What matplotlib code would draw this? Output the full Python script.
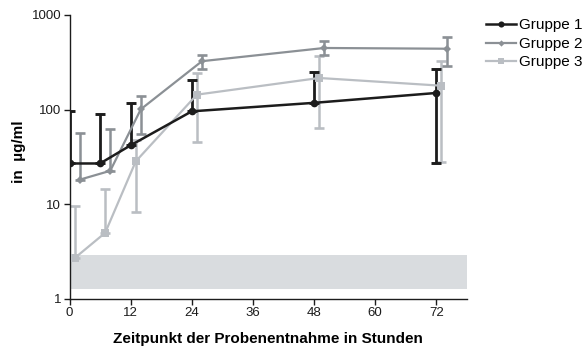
import matplotlib
matplotlib.use("Agg")
import matplotlib.pyplot as plt
import numpy as np

plt.rcParams["font.family"] = ["Liberation Sans", "DejaVu Sans"]

# Sampling times (h); groups 2 and 3 are drawn slightly offset in the original
T1 = [0, 6, 12, 24, 48, 72]
T2 = [2, 8, 14, 26, 50, 74]
T3 = [1, 7, 13, 25, 49, 73]

G1 = [27, 27, 42, 96, 118, 150]
G1_UP = [97, 90, 118, 208, 252, 271]
G1_LO = [None, None, None, None, None, 27.5]

G2 = [18.2, 22.6, 101, 325, 448, 440]
G2_UP = [56.5, 62.6, 138, 381, 527, 590]
G2_LO = [None, None, 55, 272, 375, 287]

G3 = [2.7, 5.0, 28.4, 144, 216, 179]
G3_UP = [9.5, 14.6, 48, 244, 373, 330]
G3_LO = [None, None, 8.2, 46, 64, 28]

BAND = (1.28, 2.95)  # grey band (detection limit)

SERIES = [
    ("Gruppe 1", T1, G1, G1_UP, G1_LO, "#1c1c1c", "o", 5.5, 1.8),
    ("Gruppe 2", T2, G2, G2_UP, G2_LO, "#8b9095", "D", 4.0, 1.6),
    ("Gruppe 3", T3, G3, G3_UP, G3_LO, "#babec3", "s", 6.0, 1.6),
]


def main():
    fig = plt.figure(figsize=(5.87, 3.49), dpi=100)
    ax = fig.add_axes([0.1184, 0.1433, 0.677, 0.8138])

    ax.axhspan(*BAND, color="#d9dcdf", lw=0, zorder=0)

    # draw back to front: group 3, 2, 1
    handles = {}
    for name, t, y, up, lo, col, mk, ms, lw in reversed(SERIES):
        y = np.array(y, dtype=float)
        upper = np.array(up, dtype=float) - y
        lower = np.array([v if v is not None else yy for v, yy in zip(lo, y)], dtype=float)
        lower = y - lower
        ax.errorbar(t, y, yerr=[lower, upper], fmt="none", ecolor=col,
                    elinewidth=lw + 0.2, capsize=3.5, capthick=lw + 0.3, zorder=2)
        h, = ax.plot(t, y, color=col, marker=mk, ms=ms, lw=lw,
                     markeredgewidth=0, zorder=3, label=name)
        handles[name] = h

    ax.set_yscale("log")
    ax.set_ylim(1, 1000)
    ax.set_xlim(0, 78)
    ax.set_yticks([1, 10, 100, 1000], labels=["1", "10", "100", "1000"])
    ax.yaxis.set_minor_locator(matplotlib.ticker.NullLocator())
    ax.set_xticks([0, 12, 24, 36, 48, 60, 72])

    for side in ("top", "right"):
        ax.spines[side].set_visible(False)
    for side in ("left", "bottom"):
        ax.spines[side].set_linewidth(1.0)
        ax.spines[side].set_color("#1c1c1c")
    ax.tick_params(direction="out", length=4, width=1, labelsize=9.5,
                   colors="#1c1c1c", pad=2)

    ax.set_xlabel("Zeitpunkt der Probenentnahme in Stunden", fontsize=11,
                  fontweight="bold")
    ax.xaxis.set_label_coords(0.5, -0.115)
    ax.set_ylabel("in  µg/ml", fontsize=11, fontweight="bold")
    ax.yaxis.set_label_coords(-0.11, 0.52)

    names = [s[0] for s in SERIES]
    fig.legend([handles[n] for n in names], names, loc="upper left",
               bbox_to_anchor=(0.818, 0.965), frameon=False, fontsize=11,
               handlelength=1.96, handletextpad=0.2, labelspacing=0.3,
               borderaxespad=0, markerscale=0.8)

    fig.savefig("out.png", dpi=100)


if __name__ == "__main__":
    main()
